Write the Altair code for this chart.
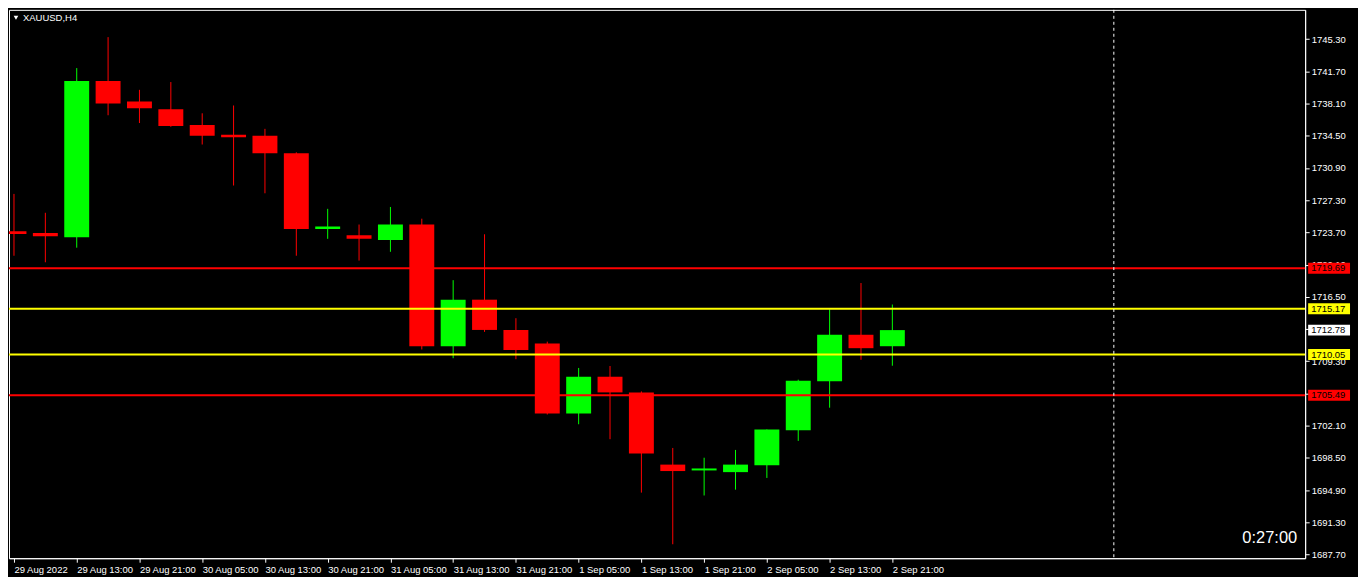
import altair as alt
import pandas as pd

# ---- data ----
symbol_title = "XAUUSD,H4"
timer_text = "0:27:00"

tick_labels = ["29 Aug 2022", "29 Aug 13:00", "29 Aug 21:00", "30 Aug 05:00", "30 Aug 13:00",
               "30 Aug 21:00", "31 Aug 05:00", "31 Aug 13:00", "31 Aug 21:00", "1 Sep 05:00",
               "1 Sep 13:00", "1 Sep 21:00", "2 Sep 05:00", "2 Sep 13:00", "2 Sep 21:00"]

open_ = [1723.82, 1723.63, 1723.16, 1740.61, 1738.32, 1737.45, 1735.70, 1734.61, 1734.50, 1732.54,
         1724.07, 1723.38, 1722.84, 1724.58, 1710.98, 1716.18, 1712.80, 1711.28, 1703.46, 1707.57,
         1705.82, 1697.75, 1697.10, 1696.91, 1697.68, 1701.60, 1707.06, 1712.26, 1710.98]
high = [1728.00, 1725.89, 1742.06, 1745.52, 1739.63, 1740.50, 1737.01, 1737.88, 1735.27, 1732.65,
        1726.33, 1724.58, 1726.54, 1725.23, 1718.36, 1723.49, 1714.11, 1711.49, 1708.55, 1708.77,
        1705.93, 1699.61, 1698.52, 1699.39, 1701.68, 1707.24, 1715.09, 1718.04, 1715.64]
low = [1721.09, 1720.36, 1721.99, 1736.79, 1735.92, 1735.50, 1733.52, 1728.94, 1728.07, 1721.09,
       1722.98, 1720.55, 1721.53, 1710.62, 1709.64, 1712.58, 1709.53, 1703.35, 1702.26, 1700.59,
       1694.62, 1688.85, 1694.30, 1694.95, 1696.26, 1700.40, 1704.11, 1709.46, 1708.80]
close = [1723.52, 1723.27, 1740.61, 1738.10, 1737.56, 1735.59, 1734.50, 1734.32, 1732.54, 1724.07,
         1724.36, 1722.98, 1724.58, 1710.98, 1716.18, 1712.80, 1710.55, 1703.46, 1707.57, 1705.82,
         1698.99, 1697.03, 1697.32, 1697.75, 1701.68, 1707.13, 1712.26, 1710.76, 1712.78]

levels = [1719.69, 1715.17, 1710.05, 1705.49]
level_colors = ["#FF0000", "#FFFF00", "#FFFF00", "#FF0000"]
current_price = 1712.78

price_ticks = [1687.70, 1691.30, 1694.90, 1698.50, 1702.10, 1705.70, 1709.30, 1712.90,
               1716.50, 1720.10, 1723.70, 1727.30, 1730.90, 1734.50, 1738.10, 1741.70, 1745.30]

time_marker_index = 35.06   # dashed vertical line position (bar index)
x_domain = [0, 41]
y_domain = [1687.29, 1748.57]

# ---- build tables ----
W, H = 1300, 550
FONT = "Liberation Sans"

candles = pd.DataFrame({"i": list(range(len(open_))), "open": open_, "high": high,
                        "low": low, "close": close})
candles["dir"] = ["up" if c >= o else "down" for o, c in zip(open_, close)]

lv = pd.DataFrame({"level": levels, "c": level_colors})
labels_df = pd.DataFrame({"price": levels + [current_price],
                          "c": level_colors + ["#FFFFFF"]})
marker_df = pd.DataFrame({"i": [time_marker_index]})
title_df = pd.DataFrame({"t": [symbol_title]})
timer_df = pd.DataFrame({"t": [timer_text]})

xs = alt.Scale(domain=x_domain, nice=False, zero=False)
ys = alt.Scale(domain=y_domain, nice=False, zero=False)
cs = alt.Scale(domain=["up", "down"], range=["#00FF00", "#FF0000"])

label_expr = "[" + ",".join("'%s'" % t for t in tick_labels) + "][round(datum.value/2)]"

x_axis = alt.Axis(values=list(range(0, 2 * len(tick_labels), 2)), labelExpr=label_expr,
                  labelAlign="left", labelPadding=2, tickSize=4, labelOverlap=False,
                  labelFlush=False, title=None)
y_axis = alt.Axis(values=price_ticks, format=".2f", orient="right", tickSize=4,
                  labelPadding=2, title=None, labelOverlap=False, labelSeparation=0)

wicks = alt.Chart(candles).mark_rule(strokeWidth=1, clip=True).encode(
    x=alt.X("i:Q", scale=xs, axis=x_axis),
    y=alt.Y("low:Q", scale=ys, axis=y_axis),
    y2="high:Q",
    color=alt.Color("dir:N", scale=cs, legend=None),
)
bodies = alt.Chart(candles).mark_bar(size=25, clip=True).encode(
    x=alt.X("i:Q", scale=xs, axis=x_axis),
    y=alt.Y("open:Q", scale=ys, axis=y_axis),
    y2="close:Q",
    color=alt.Color("dir:N", scale=cs, legend=None),
)
hlines = alt.Chart(lv).mark_rule(strokeWidth=2).encode(
    y=alt.Y("level:Q", scale=ys, axis=y_axis),
    color=alt.Color("c:N", scale=None),
)
vline = alt.Chart(marker_df).mark_rule(strokeWidth=1, strokeDash=[3, 3], color="white").encode(
    x=alt.X("i:Q", scale=xs, axis=x_axis),
)
boxes = alt.Chart(labels_df).mark_rule(strokeWidth=11, strokeCap="butt").encode(
    x=alt.value(W + 3), x2=alt.value(W + 45),
    y=alt.Y("price:Q", scale=ys, axis=y_axis),
    color=alt.Color("c:N", scale=None),
)
box_text = alt.Chart(labels_df).mark_text(align="left", baseline="middle", font=FONT,
                                          fontSize=9.5, color="black").encode(
    x=alt.value(W + 6),
    y=alt.Y("price:Q", scale=ys, axis=y_axis),
    text=alt.Text("price:Q", format=".2f"),
)
tri = alt.Chart(title_df).mark_point(shape="triangle-down", filled=True, color="white",
                                     size=22, opacity=1).encode(
    x=alt.value(7), y=alt.value(8))
title = alt.Chart(title_df).mark_text(align="left", baseline="middle", font=FONT,
                                      fontSize=9.5, color="white").encode(
    x=alt.value(14), y=alt.value(8.5), text="t:N")
timer = alt.Chart(timer_df).mark_text(align="right", baseline="middle", font=FONT,
                                      fontSize=16.5, color="white").encode(
    x=alt.value(W - 8), y=alt.value(H - 20), text="t:N")

chart = alt.layer(wicks, bodies, hlines, vline, boxes, box_text, tri, title, timer).properties(
    width=W, height=H, background="black",
    padding={"left": 0, "top": 0, "right": 2, "bottom": 2},
).configure_view(stroke="white", strokeWidth=1).configure_axis(
    grid=False, domainColor="white", tickColor="white", labelColor="white",
    labelFont=FONT, labelFontSize=9.5, labelOverlap=False,
)

chart.save("out.html", embed_options={"renderer": "svg", "actions": False})
